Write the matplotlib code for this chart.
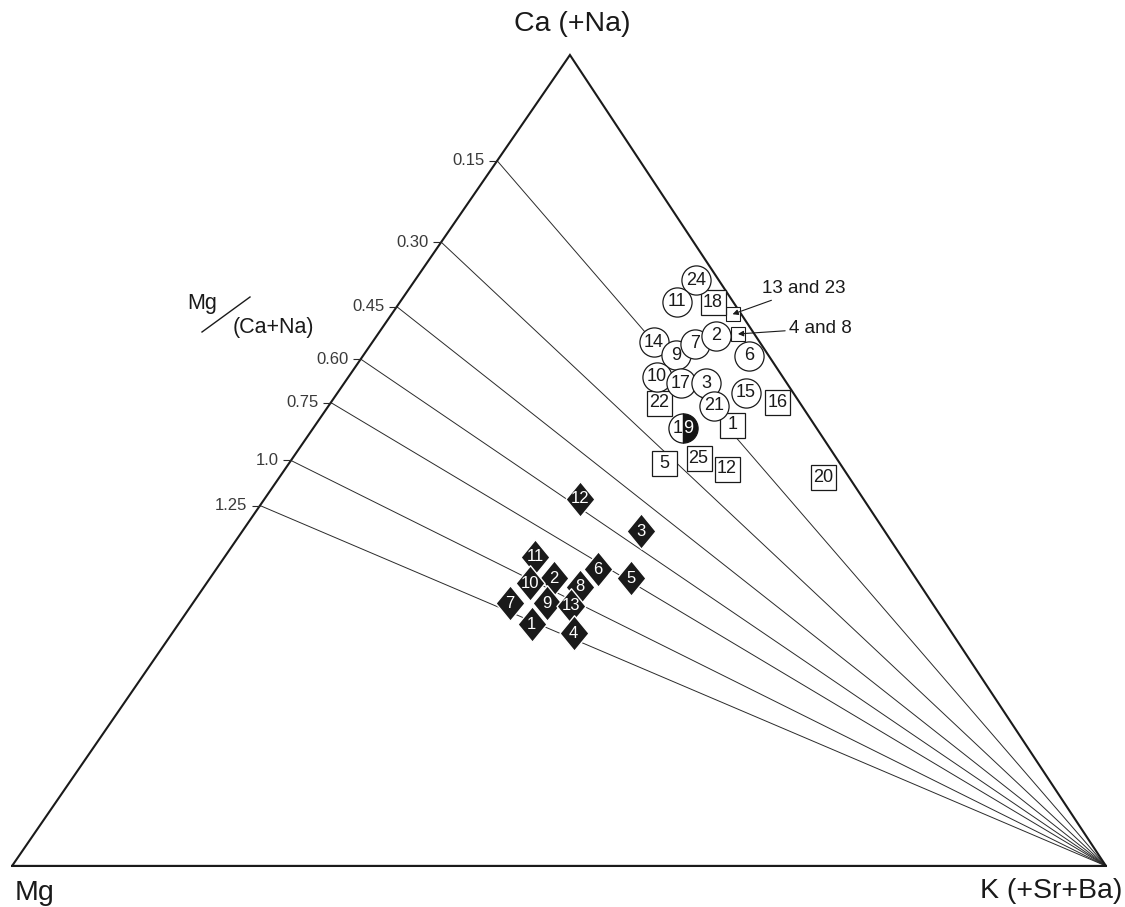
import numpy as np
import matplotlib.pyplot as plt
from matplotlib.lines import Line2D
from matplotlib.path import Path

plt.rcParams["font.family"] = ["Liberation Sans", "DejaVu Sans"]

# Mg/(Ca+Na) ratio lines radiating from the K corner
ratios = [0.15, 0.30, 0.45, 0.60, 0.75, 1.0, 1.25]
ratio_labels = ["0.15", "0.30", "0.45", "0.60", "0.75", "1.0", "1.25"]

# open circles: sample no. and Ca, Mg, K (%)
circle_ids = ["24", "11", "14", "9", "7", "2", "6", "10", "17", "3", "15", "21"]
circle_ca = [72.3, 69.5, 64.6, 63.0, 64.4, 65.4, 62.9, 60.3, 59.6, 59.6, 58.3, 56.7]
circle_mg = [2.1, 5.1, 9.7, 8.4, 6.0, 3.6, 1.8, 11.5, 9.7, 7.4, 4.3, 8.0]
circle_k = [25.7, 25.3, 25.7, 28.6, 29.6, 31.0, 35.3, 28.2, 30.8, 33.1, 37.3, 35.2]

# half-filled circle
half_id = "19"
half_comp = (54.0, 12.2, 33.8)

# open squares
square_ids = ["18", "16", "22", "1", "5", "25", "12", "20"]
square_ca = [69.5, 57.2, 57.1, 54.4, 49.7, 50.3, 49.0, 48.0]
square_mg = [1.9, 2.0, 12.9, 7.5, 16.1, 12.6, 10.7, 2.4]
square_k = [28.6, 40.8, 30.0, 38.1, 34.3, 37.1, 40.4, 49.7]

# small squares labelled with callouts
callout_labels = ["13 and 23", "4 and 8"]
callout_ca = [68.1, 65.6]
callout_mg = [0.8, 1.5]
callout_k = [31.2, 32.9]

# filled diamonds
diamond_ids = ["12", "3", "11", "6", "5", "2", "10", "8", "7", "9", "13", "1", "4"]
diamond_ca = [45.3, 41.3, 38.1, 36.6, 35.5, 35.5, 34.9, 34.4, 32.4, 32.4, 32.1, 29.8, 28.7]
diamond_mg = [25.9, 22.3, 33.5, 28.5, 26.0, 33.1, 35.6, 31.2, 38.6, 35.2, 33.2, 37.9, 34.6]
diamond_k = [28.8, 36.4, 28.4, 34.9, 38.5, 31.4, 29.6, 34.4, 29.0, 32.4, 34.7, 32.3, 36.7]

APEX_X = 0.51  # horizontal position of the Ca corner


def to_xy(ca, mg, k):
    ca, mg, k = (np.asarray(v, dtype=float) for v in (ca, mg, k))
    tot = ca + mg + k
    return k / tot + APEX_X * ca / tot, ca / tot


fig = plt.figure(figsize=(11.25, 9.07), dpi=100)
ax = fig.add_axes([0, 0, 1, 1])
ax.set_xlim(-0.011, 1.0174)
ax.set_ylim(-0.0506, 1.0678)
ax.axis("off")

# triangle outline
ax.plot([0, 1, APEX_X, 0, 1], [0, 0, 1, 0, 0], color="#1a1a1a", lw=1.5,
        solid_joinstyle="miter", zorder=3)

# ratio lines with ticks on the Mg-Ca edge
for r, lbl in zip(ratios, ratio_labels):
    m = r / (1 + r)
    x0, y0 = to_xy(1 - m, m, 0)
    ax.plot([x0, 1], [y0, 0], color="#2a2a2a", lw=0.7, zorder=1)
    ax.plot(x0, y0, marker=0, ms=6, mew=0.8, color="#2a2a2a", zorder=3)
    ax.annotate(lbl, (x0, y0), xytext=(-9, 0), textcoords="offset points",
                ha="right", va="center", fontsize=12, color="#3a3a3a")

# corner labels
kw = dict(textcoords="offset points", fontsize=20.5, color="#1a1a1a")
ax.annotate("Ca (+Na)", (APEX_X, 1), xytext=(2, 22), ha="center", va="center", **kw)
ax.annotate("Mg", (0, 0), xytext=(2, -24.5), ha="left", va="baseline", **kw)
ax.annotate("K (+Sr+Ba)", (1, 0), xytext=(12, -23), ha="right", va="baseline", **kw)

# ratio axis title
fig.text(202 / 1125, 1 - 303 / 907, "Mg", fontsize=15.5, ha="center", va="center",
         color="#1a1a1a")
fig.text(273 / 1125, 1 - 327 / 907, "(Ca+Na)", fontsize=15.5, ha="center", va="center",
         color="#1a1a1a")
fig.add_artist(Line2D([202 / 1125, 250 / 1125], [1 - 332 / 907, 1 - 297 / 907],
                      transform=fig.transFigure, lw=1.0, color="#1a1a1a"))

# small squares with callouts
cx, cy = to_xy(callout_ca, callout_mg, callout_k)
ax.plot(cx, cy, ls="none", marker="s", ms=9.5, mfc="white", mec="#1a1a1a", mew=0.8,
        zorder=4)
arrow = dict(arrowstyle="-|>", color="#1a1a1a", lw=0.8, mutation_scale=8,
             shrinkA=1, shrinkB=0)
offsets = [(21.5, 18.5), (37, 4)]
for lbl, x, y, off in zip(callout_labels, cx, cy, offsets):
    ax.annotate(lbl, (x, y), xytext=off, textcoords="offset points", ha="left",
                va="center", fontsize=13.5, color="#1a1a1a", arrowprops=arrow, zorder=6)

# open squares
sx, sy = to_xy(square_ca, square_mg, square_k)
for lbl, x, y in zip(square_ids, sx, sy):
    ax.plot(x, y, marker="s", ms=18, mfc="white", mec="#1a1a1a", mew=0.9, zorder=5)
    ax.text(x, y, lbl, ha="center", va="center", fontsize=13, color="#1a1a1a", zorder=7)

# open circles
ox, oy = to_xy(circle_ca, circle_mg, circle_k)
for lbl, x, y in zip(circle_ids, ox, oy):
    ax.plot(x, y, marker="o", ms=21, mfc="white", mec="#1a1a1a", mew=0.9, zorder=5)
    ax.text(x, y, lbl, ha="center", va="center", fontsize=13, color="#1a1a1a", zorder=7)

# half-filled circle
hx, hy = to_xy(*half_comp)
ax.plot(hx, hy, marker="o", ms=21, fillstyle="left", mfc="white",
        markerfacecoloralt="#151515", mec="#151515", mew=0.9, zorder=5)
ax.annotate(half_id[0], (hx, hy), xytext=(-0.3, 0), textcoords="offset points",
            ha="right", va="center", fontsize=13, color="#1a1a1a", zorder=7)
ax.annotate(half_id[1], (hx, hy), xytext=(0.3, 0), textcoords="offset points",
            ha="left", va="center", fontsize=13, color="white", zorder=7)

# filled diamonds (taller than wide)
diamond = Path([(0, 1), (0.82, 0), (0, -1), (-0.82, 0), (0, 1)],
               [Path.MOVETO, Path.LINETO, Path.LINETO, Path.LINETO, Path.CLOSEPOLY])
dx, dy = to_xy(diamond_ca, diamond_mg, diamond_k)
for lbl, x, y in zip(diamond_ids, dx, dy):
    ax.plot(x, y, marker=diamond, ms=25.5, mfc="#1a1a1a", mec="white", mew=1.0, zorder=5)
    ax.text(x, y, lbl, ha="center", va="center", fontsize=12, color="white", zorder=7)

fig.savefig("out.png", dpi=100, facecolor="white")
